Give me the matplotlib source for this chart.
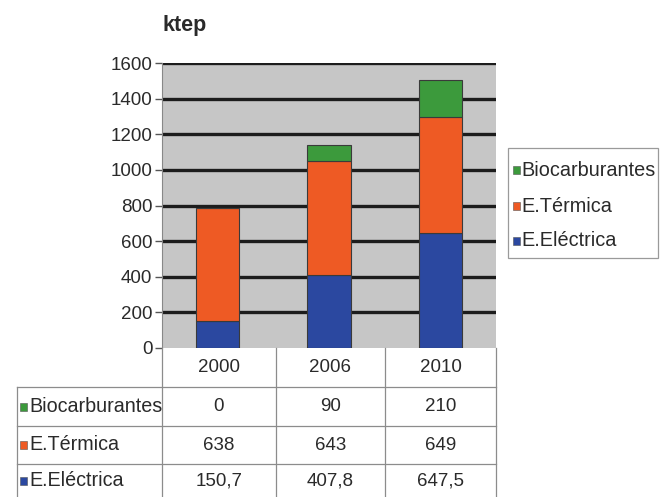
import matplotlib
matplotlib.use("Agg")
import matplotlib.pyplot as plt
from matplotlib.patches import Rectangle
from matplotlib.lines import Line2D
import numpy as np

# Data
years = ["2000", "2006", "2010"]
series_names = ["Biocarburantes", "E.Térmica", "E.Eléctrica"]
biocarburantes = [0, 90, 210]
termica = [638, 643, 649]
electrica = [150.7, 407.8, 647.5]
yticks = [0, 200, 400, 600, 800, 1000, 1200, 1400, 1600]

colors = {
    "Biocarburantes": "#3c9a3c",
    "E.Térmica": "#ee5a24",
    "E.Eléctrica": "#2b48a0",
}
text_color = "#2a2a2a"
plt.rcParams["font.family"] = ["Liberation Sans", "DejaVu Sans"]

W, H = 669, 497
fig = plt.figure(figsize=(W / 100, H / 100), dpi=100)


def fx(px):
    return px / W


def fy(py):
    return 1 - py / H


# Plot area in pixel coordinates
left, right, top, bottom = 162, 496, 63, 348
ax = fig.add_axes([fx(left), fy(bottom), fx(right) - fx(left), fy(top) - fy(bottom)])
ax.set_facecolor("#c6c6c6")

x = np.arange(len(years))
width = 0.39
edge = dict(edgecolor="#3a3a3a", linewidth=0.8)
ax.bar(x, electrica, width, color=colors["E.Eléctrica"], zorder=3, **edge)
ax.bar(x, termica, width, bottom=electrica, color=colors["E.Térmica"], zorder=3, **edge)
base2 = np.array(electrica) + np.array(termica)
ax.bar(x, biocarburantes, width, bottom=base2, color=colors["Biocarburantes"], zorder=3, **edge)

ax.set_xlim(-0.5, len(years) - 0.5)
ax.set_ylim(0, 1600)
ax.set_yticks(yticks)
ax.set_yticklabels([str(v) for v in yticks], fontsize=13.5, color=text_color)
ax.set_xticks([])
for y in yticks[1:]:
    ax.axhline(y, color="#1c1c1c", linewidth=2.4, zorder=1)
ax.tick_params(axis="y", length=5, width=1, color="#555555", pad=2)
for s in ["top", "right", "bottom"]:
    ax.spines[s].set_visible(False)
ax.spines["left"].set_color("#888888")
ax.spines["left"].set_linewidth(0.8)

fig.text(fx(162), fy(26), "ktep", fontsize=15.5, fontweight="bold",
         color=text_color, ha="left", va="center")

# Legend box
lg = fig.add_axes([0, 0, 1, 1], facecolor="none")
lg.set_xlim(0, W)
lg.set_ylim(H, 0)
lg.axis("off")
lg.add_patch(Rectangle((508, 148), 150, 110, facecolor="white",
                       edgecolor="#9a9a9a", linewidth=0.9))
for name, yy in zip(series_names, [170, 206, 241]):
    lg.add_patch(Rectangle((513, yy - 4), 7, 8, facecolor=colors[name],
                           edgecolor="#555555", linewidth=0.4))
    lg.text(521, yy, name, fontsize=14.3, color=text_color, va="center", ha="left")

# Data table beneath the chart
col_edges = [162, 276, 385, 496]
row_edges = [348, 387, 426, 464, 497]
line_kw = dict(color="#8c8c8c", linewidth=0.9)
for cx in col_edges:
    lg.add_line(Line2D([cx, cx], [348, 497], **line_kw))
lg.add_line(Line2D([17, 17], [387, 497], **line_kw))
for ry in row_edges[1:4]:
    lg.add_line(Line2D([17, 496], [ry, ry], **line_kw))

col_centers = [(col_edges[i] + col_edges[i + 1]) / 2 for i in range(3)]
row_centers = [(row_edges[i] + row_edges[i + 1]) / 2 for i in range(4)]


def fmt(v):
    if float(v).is_integer():
        return str(int(v))
    return f"{v:.1f}".replace(".", ",")


for cx, yr in zip(col_centers, years):
    lg.text(cx, row_centers[0], yr, fontsize=13.5, color=text_color, ha="center", va="center")

rows = [("Biocarburantes", biocarburantes), ("E.Térmica", termica), ("E.Eléctrica", electrica)]
for (name, vals), ry in zip(rows, row_centers[1:]):
    lg.add_patch(Rectangle((20, ry - 4), 7, 8, facecolor=colors[name],
                           edgecolor="#555555", linewidth=0.4))
    lg.text(29, ry, name, fontsize=14.2, color=text_color, ha="left", va="center")
    for cx, v in zip(col_centers, vals):
        lg.text(cx, ry, fmt(v), fontsize=13.5, color=text_color, ha="center", va="center")

fig.savefig("out.png", dpi=100)
